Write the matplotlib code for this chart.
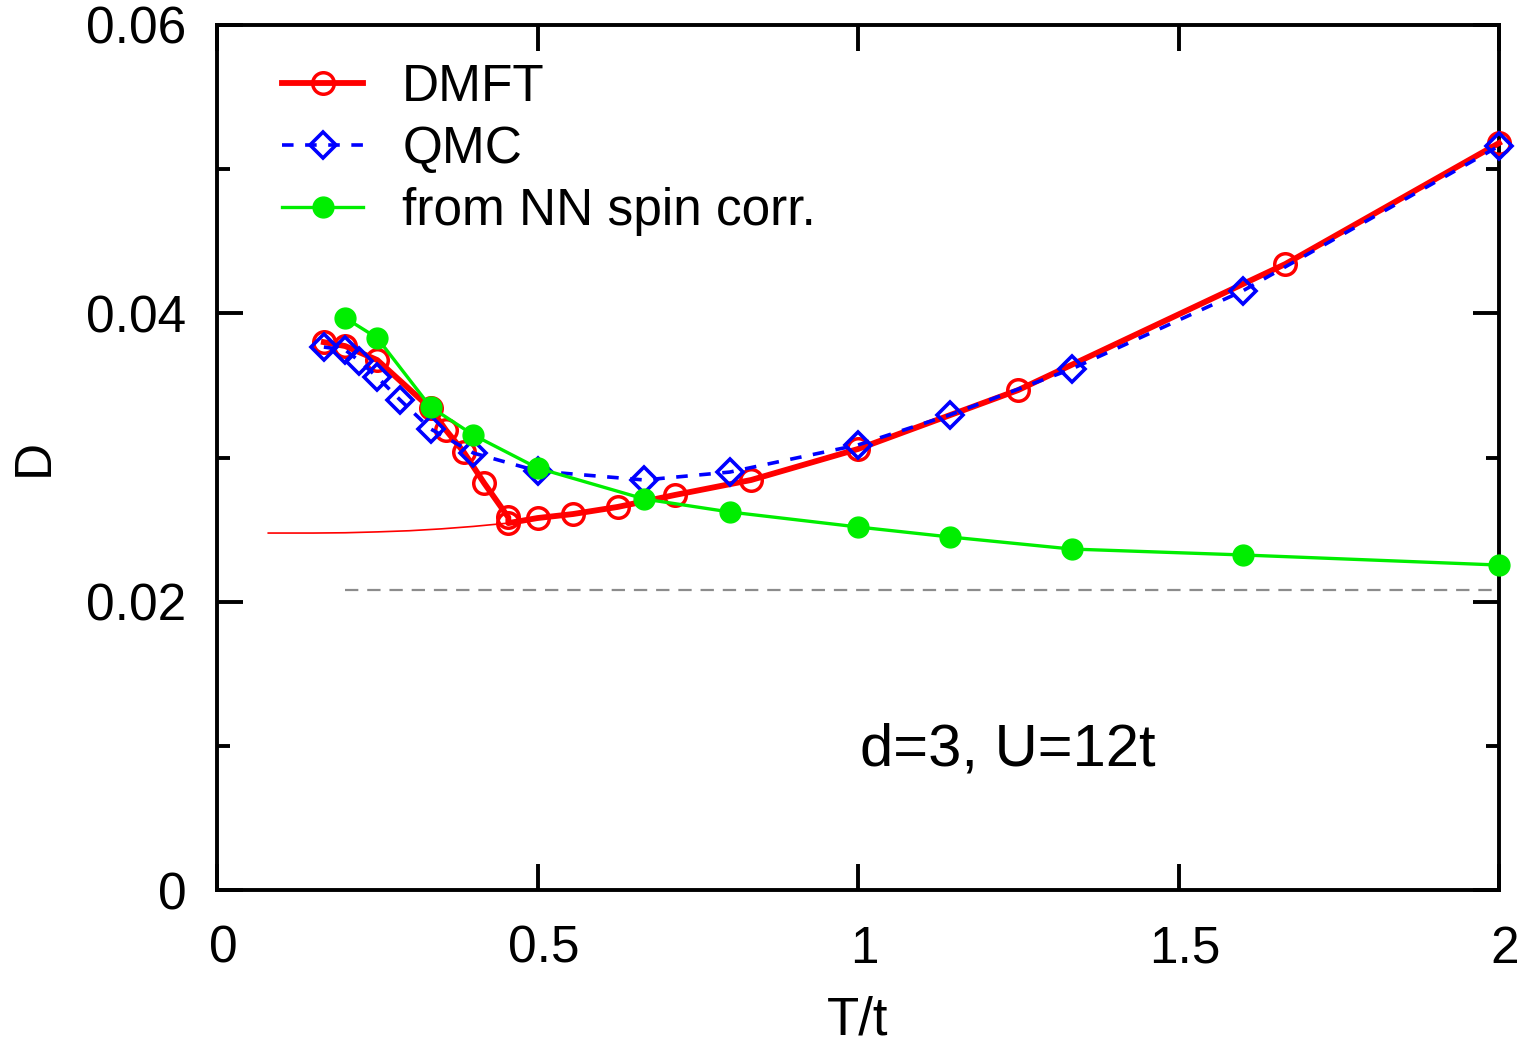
import matplotlib
matplotlib.use("Agg")
import matplotlib.pyplot as plt
from matplotlib.transforms import ScaledTranslation

plt.rcParams['font.family'] = ['Liberation Sans', 'DejaVu Sans']

# DMFT double occupancy
T_dmft = [0.1667, 0.2, 0.25, 0.3333, 0.3571, 0.3846, 0.4167, 0.4545, 0.4545,
          0.5, 0.5556, 0.625, 0.7143, 0.8333, 1.0, 1.25, 1.6667, 2.0]
D_dmft = [0.0380, 0.03773, 0.03676, 0.0334, 0.0319, 0.0304, 0.02823, 0.02585, 0.02545,
          0.0258, 0.02608, 0.02657, 0.0274, 0.02844, 0.03059, 0.03468, 0.04342, 0.05181]

# DMFT metastable low-temperature branch
T_branch = [0.08, 0.15, 0.2, 0.25, 0.3, 0.35, 0.4, 0.4545]
D_branch = [0.02476, 0.02476, 0.02478, 0.02484, 0.02492, 0.02505, 0.02522, 0.02545]

# QMC double occupancy
T_qmc = [0.1667, 0.2, 0.2222, 0.25, 0.2857, 0.3333, 0.4, 0.5, 0.6667, 0.8,
         1.0, 1.1429, 1.3333, 1.6, 2.0]
D_qmc = [0.03766, 0.03746, 0.03669, 0.03558, 0.03399, 0.03198, 0.03031, 0.02906,
         0.02844, 0.02899, 0.03087, 0.03295, 0.03614, 0.04155, 0.0516]

# Estimate from nearest-neighbour spin correlations
T_nn = [0.2, 0.25, 0.3333, 0.4, 0.5, 0.6667, 0.8, 1.0, 1.1429, 1.3333, 1.6, 2.0]
D_nn = [0.03968, 0.03829, 0.0335, 0.03156, 0.02927, 0.02712, 0.02622, 0.02518,
        0.02449, 0.02365, 0.02324, 0.02254]

# Reference level
T_ref = [0.2, 2.0]
D_ref = [0.0208, 0.0208]

fig = plt.figure(figsize=(15.24, 10.44), dpi=100)
ax = fig.add_axes([217/1524, 154/1044, (1499-217)/1524, (890-25)/1044])

ax.plot(T_ref, D_ref, color='#8c8c8c', lw=1.6, dashes=(6, 4), zorder=1)
ax.plot(T_branch, D_branch, color='#ff0000', lw=1.2, zorder=2)
ax.plot(T_dmft, D_dmft, color='#ff0000', lw=4.2, marker='o', ms=15.5,
        mfc='none', mec='#ff0000', mew=2.5, label='DMFT', zorder=3, clip_on=False)
ax.plot(T_qmc, D_qmc, color='#0000ff', lw=2.6, dashes=(3.2, 3.2), marker='D', ms=13.5,
        mfc='none', mec='#0000ff', mew=2.6, label='QMC', zorder=4, clip_on=False)
ax.plot(T_nn, D_nn, color='#00ee00', lw=2.4, marker='o', ms=15,
        mfc='#00ee00', mec='#00ee00', label='from NN spin corr.', zorder=5,
        clip_on=False)

ax.set_xlim(0, 2)
ax.set_ylim(0, 0.06)
ax.set_xticks([0, 0.5, 1, 1.5, 2])
ax.set_xticklabels(['0', '0.5', '1', '1.5', '2'])
ax.set_yticks([0, 0.02, 0.04, 0.06])
ax.set_yticklabels(['0', '0.02', '0.04', '0.06'])
ax.set_yticks([0.01, 0.03, 0.05], minor=True)

for s in ax.spines.values():
    s.set_linewidth(2.8)
ax.tick_params(which='major', direction='in', length=19, width=2.8,
               top=True, right=True, labelsize=37)
ax.tick_params(which='minor', direction='in', length=9.5, width=2.8,
               left=True, right=True)
ax.tick_params(axis='x', which='major', pad=25)
ax.tick_params(axis='y', which='major', pad=22)

shift = ScaledTranslation(6/100, 0, fig.dpi_scale_trans)
for lbl in ax.get_xticklabels():
    lbl.set_transform(lbl.get_transform() + shift)

ax.set_xlabel('T/t', fontsize=38, labelpad=16)
ax.set_ylabel('D', fontsize=37, labelpad=20)

ax.text(1.003, 0.00867, 'd=3, U=12t', fontsize=43, ha='left', va='baseline')

leg = ax.legend(loc='upper left', bbox_to_anchor=(0.035, 0.98), frameon=False,
                fontsize=37, numpoints=1, handlelength=1.56, handletextpad=0.77,
                labelspacing=0.25, borderaxespad=0)

fig.savefig('out.png', dpi=100)
